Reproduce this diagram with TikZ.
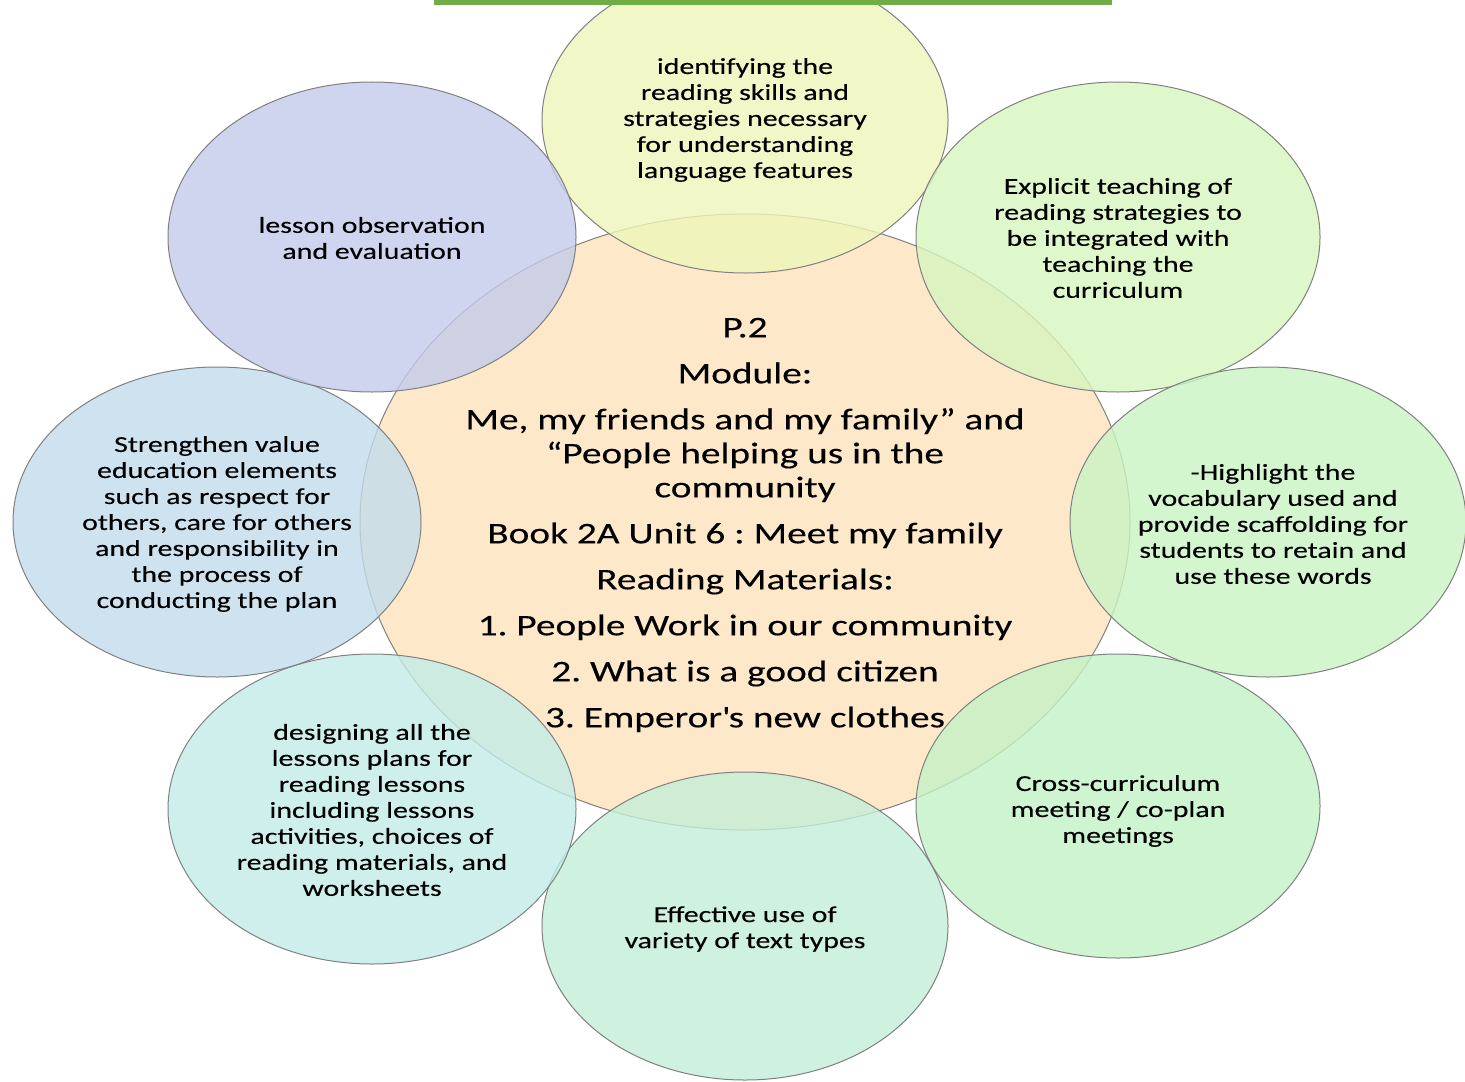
\documentclass[tikz,border=0pt]{standalone}
\usepackage{fontspec}
\setmainfont{Carlito}[FakeStretch=1.31, FakeBold=0.2]
\usepackage{tikz}
\usepackage{xcolor}
\frenchspacing
\definecolor{peach}{HTML}{FDE3BC}
\definecolor{lavender}{HTML}{C3CBEA}
\definecolor{lemon}{HTML}{EEF6BA}
\definecolor{lime}{HTML}{D6F5BE}
\definecolor{mint}{HTML}{C9F4C4}
\definecolor{leaf}{HTML}{C4F2C6}
\definecolor{seafoam}{HTML}{C4EED8}
\definecolor{aqua}{HTML}{C2ECE8}
\definecolor{sky}{HTML}{C2DCEB}
\definecolor{barGreen}{HTML}{70AD47}

\begin{document}
\begin{tikzpicture}[x=0.5pt,y=-0.5pt,
    bubble/.style={draw=black!50, line width=0.5pt, fill opacity=0.8},
    txt/.style={align=center, text=black, font=\fontsize{11.4}{13}\selectfont},
    maintxt/.style={align=center, text=black, font=\fontsize{15}{17}\selectfont}]
    \useasboundingbox (0,0) rectangle (1465,1081);
    \clip (0,0) rectangle (1465,1081);
    \fill[white] (0,0) rectangle (1465,1081);
    % centre
    \draw[bubble, fill=peach] (745,522) ellipse (385 and 308);
    % ring
    \draw[bubble, fill=lemon] (745,120) ellipse (203 and 153);
    \draw[bubble, fill=lime] (1118,237) ellipse (202 and 155);
    \draw[bubble, fill=mint] (1268,522) ellipse (198 and 155);
    \draw[bubble, fill=leaf] (1118,806) ellipse (202 and 152);
    \draw[bubble, fill=seafoam] (745,926) ellipse (203 and 154);
    \draw[bubble, fill=aqua] (372,809) ellipse (204 and 155);
    \draw[bubble, fill=sky] (217,522) ellipse (204 and 155);
    \draw[bubble, fill=lavender] (372,237) ellipse (204 and 155);
    % title bar
    \draw[barGreen, line width=2.5pt, fill=white] (436,-30) rectangle (1109,3);
    % texts
    \node[maintxt] (centre) at (745,525) {P.2\\[6pt]
        Module:\\[6pt]
        Me, my friends and my family'' and\\
        ``People helping us in the\\
        community\\[6pt]
        Book 2A Unit 6 : Meet my family\\[6pt]
        Reading Materials:\\[6pt]
        1. People Work in our community\\[6pt]
        2. What is a good citizen\\[6pt]
        3. Emperor\textquotesingle s new clothes};
    \node[txt] (skills) at (745,120) {identifying the\\reading skills and\\strategies necessary\\for understanding\\language features};
    \node[txt] (explicit) at (1118,238) {Explicit teaching of\\reading strategies to\\be integrated with\\teaching the\\curriculum};
    \node[txt] (vocab) at (1273,524) {-Highlight the\\vocabulary used and\\provide scaffolding for\\students to retain and\\use these words};
    \node[txt] (cross) at (1118,811) {Cross-curriculum\\meeting / co-plan\\meetings};
    \node[txt] (texttypes) at (745,929) {Effective use of\\variety of text types};
    \node[txt] (designing) at (372,810) {designing all the\\lessons plans for\\reading lessons\\including lessons\\activities, choices of\\reading materials, and\\worksheets};
    \node[txt] (values) at (217,524) {Strengthen value\\education elements\\such as respect for\\others, care for others\\and responsibility in\\the process of\\conducting the plan};
    \node[txt] (observe) at (372,238) {lesson observation\\and evaluation};
\end{tikzpicture}
\end{document}
